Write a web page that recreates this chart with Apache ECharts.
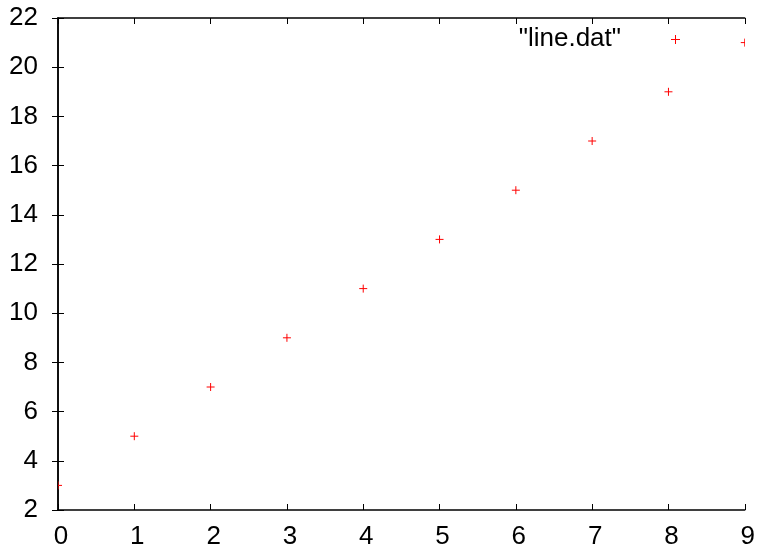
<!DOCTYPE html>
<html>
<head>
<meta charset="utf-8">
<script src="https://cdn.jsdelivr.net/npm/echarts@6/dist/echarts.min.js"></script>
<style>
  html, body { margin: 0; padding: 0; background: #fff; }
  #chart { width: 758px; height: 558px; }
</style>
</head>
<body>
<div id="chart"></div>
<script>
// data
const xValues = [0, 1, 2, 3, 4, 5, 6, 7, 8, 9];
const yValues = [3, 5, 7, 9, 11, 13, 15, 17, 19, 21];
const seriesName = '"line.dat"';

const points = xValues.map((x, i) => [x, yValues[i]]);
const font = "'Liberation Sans', Arial, sans-serif";
const red = '#ff0000';

// gnuplot-like box axes: ticks inward, mirrored on top/right
const axisLine = { show: true, lineStyle: { color: '#000', width: 1.5 } };
const tickIn = { show: true, inside: true, length: 6, lineStyle: { color: '#000', width: 1 } };
const label = { color: '#000', fontSize: 26, fontFamily: font };

const chart = echarts.init(document.getElementById('chart'), null, { renderer: 'canvas' });

// "+" point marker as two short strokes
const plus = (cx, cy, h, z) => [
  { type: 'line', z, shape: { x1: cx - h, y1: cy, x2: cx + h, y2: cy }, style: { stroke: red, lineWidth: 1 } },
  { type: 'line', z, shape: { x1: cx, y1: cy - h, x2: cx, y2: cy + h }, style: { stroke: red, lineWidth: 1 } }
];

chart.setOption({
  animation: false,
  grid: { left: 58, right: 13, top: 18, bottom: 48, containLabel: false },
  xAxis: [
    { type: 'value', min: 0, max: 9, interval: 1, position: 'bottom',
      axisLine, axisTick: tickIn, splitLine: { show: false },
      axisLabel: Object.assign({ margin: 14, padding: [0, 0, 0, 6] }, label) },
    { type: 'value', min: 0, max: 9, interval: 1, position: 'top',
      axisLine, axisTick: tickIn, splitLine: { show: false }, axisLabel: { show: false } }
  ],
  yAxis: [
    { type: 'value', min: 2, max: 22, interval: 2, position: 'left',
      axisLine, axisTick: tickIn, splitLine: { show: false },
      axisLabel: Object.assign({ margin: 20 }, label) },
    { type: 'value', min: 2, max: 22, interval: 2, position: 'right',
      axisLine, axisTick: tickIn, splitLine: { show: false }, axisLabel: { show: false } }
  ],
  series: [{
    name: seriesName,
    type: 'custom',
    clip: true,
    data: points,
    renderItem: (params, api) => {
      const p = api.coord([api.value(0), api.value(1)]);
      return { type: 'group', children: plus(p[0], p[1], 4) };
    }
  }],
  // key: text then marker, as gnuplot draws it
  graphic: [
    { type: 'text', x: 621, y: 39, z: 10,
      style: { text: seriesName, fill: '#000', fontSize: 26, fontFamily: font,
        textAlign: 'right', textVerticalAlign: 'middle' } },
    { type: 'line', z: 10, shape: { x1: 671, y1: 39.5, x2: 680, y2: 39.5 }, style: { stroke: red, lineWidth: 1 } },
    { type: 'line', z: 10, shape: { x1: 675.5, y1: 35, x2: 675.5, y2: 44 }, style: { stroke: red, lineWidth: 1 } }
  ]
});
</script>
</body>
</html>
